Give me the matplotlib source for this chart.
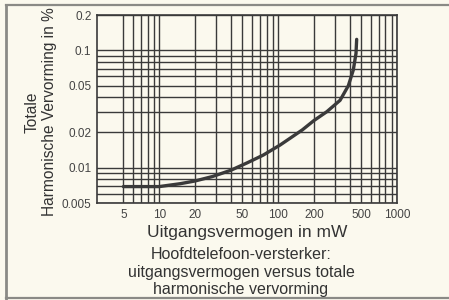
import matplotlib.pyplot as plt
import matplotlib.ticker as mticker
from matplotlib.lines import Line2D

# curve (output power in mW, THD in %)
power_mw = [5, 10, 15, 20, 28, 40, 55, 75, 104, 126, 160, 200, 257, 332, 390, 429, 452, 458]
thd_pct = [0.0069, 0.0069, 0.0073, 0.0077, 0.0084, 0.0095, 0.0110, 0.0128, 0.0156, 0.0178,
           0.0210, 0.0252, 0.0300, 0.0375, 0.050, 0.068, 0.094, 0.124]

x_ticks = [5, 10, 20, 50, 100, 200, 500, 1000]
x_labels = ['5', '10', '20', '50', '100', '200', '500', '1000']
y_ticks = [0.005, 0.01, 0.02, 0.05, 0.1, 0.2]
y_labels = ['0.005', '0.01', '0.02', '0.05', '0.1', '0.2']

# grid lines of the printed chart paper
x_grid = [5, 6, 7, 8, 9] + list(range(10, 100, 10)) + list(range(100, 1001, 100))
y_grid = [0.005, 0.006, 0.007, 0.008, 0.009] + [i / 100 for i in range(1, 11)] + [0.2]

plt.rcParams['font.family'] = ['Liberation Sans', 'DejaVu Sans']
bg = '#fbf9ee'
ink = '#3a3a3a'
txt = '#333333'

fig = plt.figure(figsize=(4.49, 3.0), dpi=100, facecolor=bg)
ax = fig.add_axes([97 / 449, 1 - 203 / 300, 300 / 449, 188 / 300], facecolor=bg)
ax.set_xscale('log')
ax.set_yscale('log')
ax.set_xlim(3, 1000)
ax.set_ylim(0.005, 0.2)

for gx in x_grid:
    ax.axvline(gx, color=ink, lw=1.0, zorder=1)
for gy in y_grid:
    ax.axhline(gy, color=ink, lw=1.0, zorder=1)

ax.plot(power_mw, thd_pct, color=ink, lw=2.4, solid_capstyle='round', zorder=3)

ax.xaxis.set_major_locator(mticker.FixedLocator(x_ticks))
ax.xaxis.set_major_formatter(mticker.FixedFormatter(x_labels))
ax.xaxis.set_minor_locator(mticker.NullLocator())
ax.yaxis.set_major_locator(mticker.FixedLocator(y_ticks))
ax.yaxis.set_major_formatter(mticker.FixedFormatter(y_labels))
ax.yaxis.set_minor_locator(mticker.NullLocator())
ax.tick_params(length=0, pad=4, labelsize=8.5, labelcolor='#444444')

for s in ax.spines.values():
    s.set_color(ink)
    s.set_linewidth(1.2)

ax.set_xlabel('Uitgangsvermogen in mW', fontsize=12.5, color=txt, va='center')
ax.xaxis.set_label_coords(0.5, -(232 - 203) / 188)
ax.set_ylabel('Totale\nHarmonische Vervorming in %', fontsize=11.2, color=txt,
              va='center', ha='center', linespacing=1.15)
ax.yaxis.set_label_coords((41 - 97) / 300, (203 - 112) / 188)

fig.text(241 / 449, 1 - 272 / 300,
         'Hoofdtelefoon-versterker:\nuitgangsvermogen versus totale\nharmonische vervorming',
         ha='center', va='center', fontsize=11.5, color=txt, linespacing=1.2)

# outer frame of the scanned figure
frame = '#8a8a86'
fig.add_artist(Line2D([6 / 449, 6 / 449], [0.005, 1 - 5 / 300], color=frame, lw=2.0))
fig.add_artist(Line2D([6 / 449, 1.0], [1 - 5 / 300, 1 - 5 / 300], color=frame, lw=1.6))
fig.add_artist(Line2D([6 / 449, 1.0], [0.006, 0.006], color=frame, lw=1.6))

fig.savefig('out.png', dpi=100, facecolor=bg)
